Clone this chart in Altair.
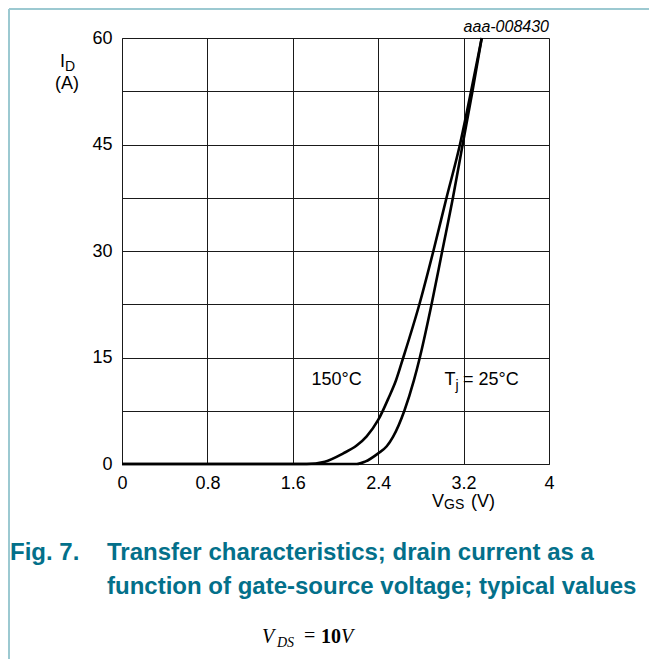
import altair as alt
import pandas as pd

# Data
v_150 = [0.0, 1.6, 1.73, 1.90, 2.073, 2.198, 2.292, 2.40, 2.50, 2.567, 2.635, 2.786, 2.917, 3.04, 3.166, 3.27, 3.37]
i_150 = [0.0, 0.0, 0.0, 0.33, 1.5, 2.6, 3.9, 6.2, 9.4, 11.8, 15.0, 22.5, 30.0, 37.5, 45.0, 52.5, 60.0]
v_25 = [0.0, 1.6, 2.20, 2.277, 2.40, 2.48, 2.54, 2.645, 2.735, 2.79, 2.90, 3.0, 3.10, 3.191, 3.283, 3.37]
i_25 = [0.0, 0.0, 0.0, 0.33, 1.5, 2.5, 3.85, 7.5, 11.8, 15.0, 22.5, 30.0, 37.5, 45.0, 52.5, 60.0]

x_ticks = [0, 0.8, 1.6, 2.4, 3.2, 4]
y_grid = [0, 7.5, 15, 22.5, 30, 37.5, 45, 52.5, 60]

df = pd.concat([
    pd.DataFrame({"v": v_150, "i": i_150, "T": "150"}),
    pd.DataFrame({"v": v_25, "i": i_25, "T": "25"}),
])

W, H = 427, 426
PL, PT = 114, 30
FONT = "Liberation Sans"
TEAL = "#03708a"

xs = alt.Scale(domain=[0, 4], nice=False, zero=False)
ys = alt.Scale(domain=[0, 60], nice=False, zero=False)

curves = alt.Chart(df).mark_line(color="black", strokeWidth=2.6, interpolate="monotone").encode(
    x=alt.X("v:Q", scale=xs, axis=alt.Axis(
        values=x_ticks, format=".1~f", title=None, grid=True, gridColor="#1a1a1a",
        gridOpacity=1, gridWidth=1, tickSize=0, labelFontSize=18, labelColor="black",
        labelFont=FONT, labelPadding=10, domainColor="#1a1a1a", labelFlush=False)),
    y=alt.Y("i:Q", scale=ys, axis=alt.Axis(
        values=y_grid, labelExpr="datum.value % 15 == 0 ? datum.label : ''",
        title=None, grid=True, gridColor="#1a1a1a", gridOpacity=1, gridWidth=1,
        tickSize=0, labelFontSize=18, labelColor="black", labelFont=FONT,
        labelPadding=10, domainColor="#1a1a1a", labelFlush=False)),
    detail="T:N",
)

ann = pd.DataFrame({
    "v": [2.01, 3.02, 3.125, 3.195],
    "i": [11.8, 11.8, 11.0, 11.8],
    "t": ["150°C", "T", "j", "= 25°C"],
})
ann_c = alt.Chart(ann.iloc[[0]]).mark_text(fontSize=18, font=FONT, color="black", align="center", baseline="middle").encode(
    x=alt.X("v:Q", scale=xs), y=alt.Y("i:Q", scale=ys), text="t:N")
ann_T = alt.Chart(ann.iloc[[1, 3]]).mark_text(fontSize=18, font=FONT, color="black", align="left", baseline="middle").encode(
    x=alt.X("v:Q", scale=xs), y=alt.Y("i:Q", scale=ys), text="t:N")
ann_j = alt.Chart(ann.iloc[[2]]).mark_text(fontSize=14, font=FONT, color="black", align="left", baseline="middle").encode(
    x=alt.X("v:Q", scale=xs), y=alt.Y("i:Q", scale=ys), text="t:N")


def txt(s, x, y, size=18, weight="normal", style="normal", color="black", align="left", font=FONT):
    return alt.Chart(pd.DataFrame({"t": [s]})).mark_text(
        fontSize=size, fontWeight=weight, fontStyle=style, color=color, align=align,
        baseline="middle", font=font).encode(
        x=alt.value(x - 8 - PL), y=alt.value(y - 8 - PT), text="t:N")

SERIF = "Liberation Serif"
labels = [
    txt("aaa-008430", 549, 27, size=16, style="italic", align="right"),
    txt("I", 60, 62),
    txt("D", 65, 67, size=14),
    txt("(A)", 67, 84, align="center"),
    txt("V", 432, 502),
    txt("GS", 444, 505, size=14),
    txt("(V)", 471, 502),
    txt("Fig. 7.", 10, 553, size=24, weight="bold", color=TEAL),
    txt("Transfer characteristics; drain current as a", 107, 553, size=24, weight="bold", color=TEAL),
    txt("function of gate-source voltage; typical values", 107, 587, size=24, weight="bold", color=TEAL),
    txt("V", 262, 637, size=20, style="italic", font=SERIF),
    txt("DS", 277, 643, size=14, style="italic", font=SERIF),
    txt("=", 304, 636, size=20, font=SERIF),
    txt("10", 321, 637, size=20, weight="bold", font=SERIF),
    txt("V", 341, 637, size=20, style="italic", font=SERIF),
]

frame_df = pd.DataFrame({"a": [0]})
frame_left = alt.Chart(frame_df).mark_rule(color="#9cc9d1", strokeWidth=2).encode(
    x=alt.value(1 - PL), y=alt.value(1 - PT), y2=alt.value(H + 195))
frame_top = alt.Chart(frame_df).mark_rule(color="#9cc9d1", strokeWidth=2).encode(
    x=alt.value(1 - PL), x2=alt.value(W + 100), y=alt.value(1 - PT))

chart = alt.layer(curves, ann_c, ann_T, ann_j, frame_left, frame_top, *labels).properties(
    width=W, height=H,
    padding={"left": PL, "top": PT, "right": 100, "bottom": 196},
    autosize=alt.AutoSizeParams(type="none"),
).configure_view(stroke="#1a1a1a", strokeWidth=1).configure(background="white")

chart.save("out.html", embed_options={"renderer": "svg", "actions": False})
